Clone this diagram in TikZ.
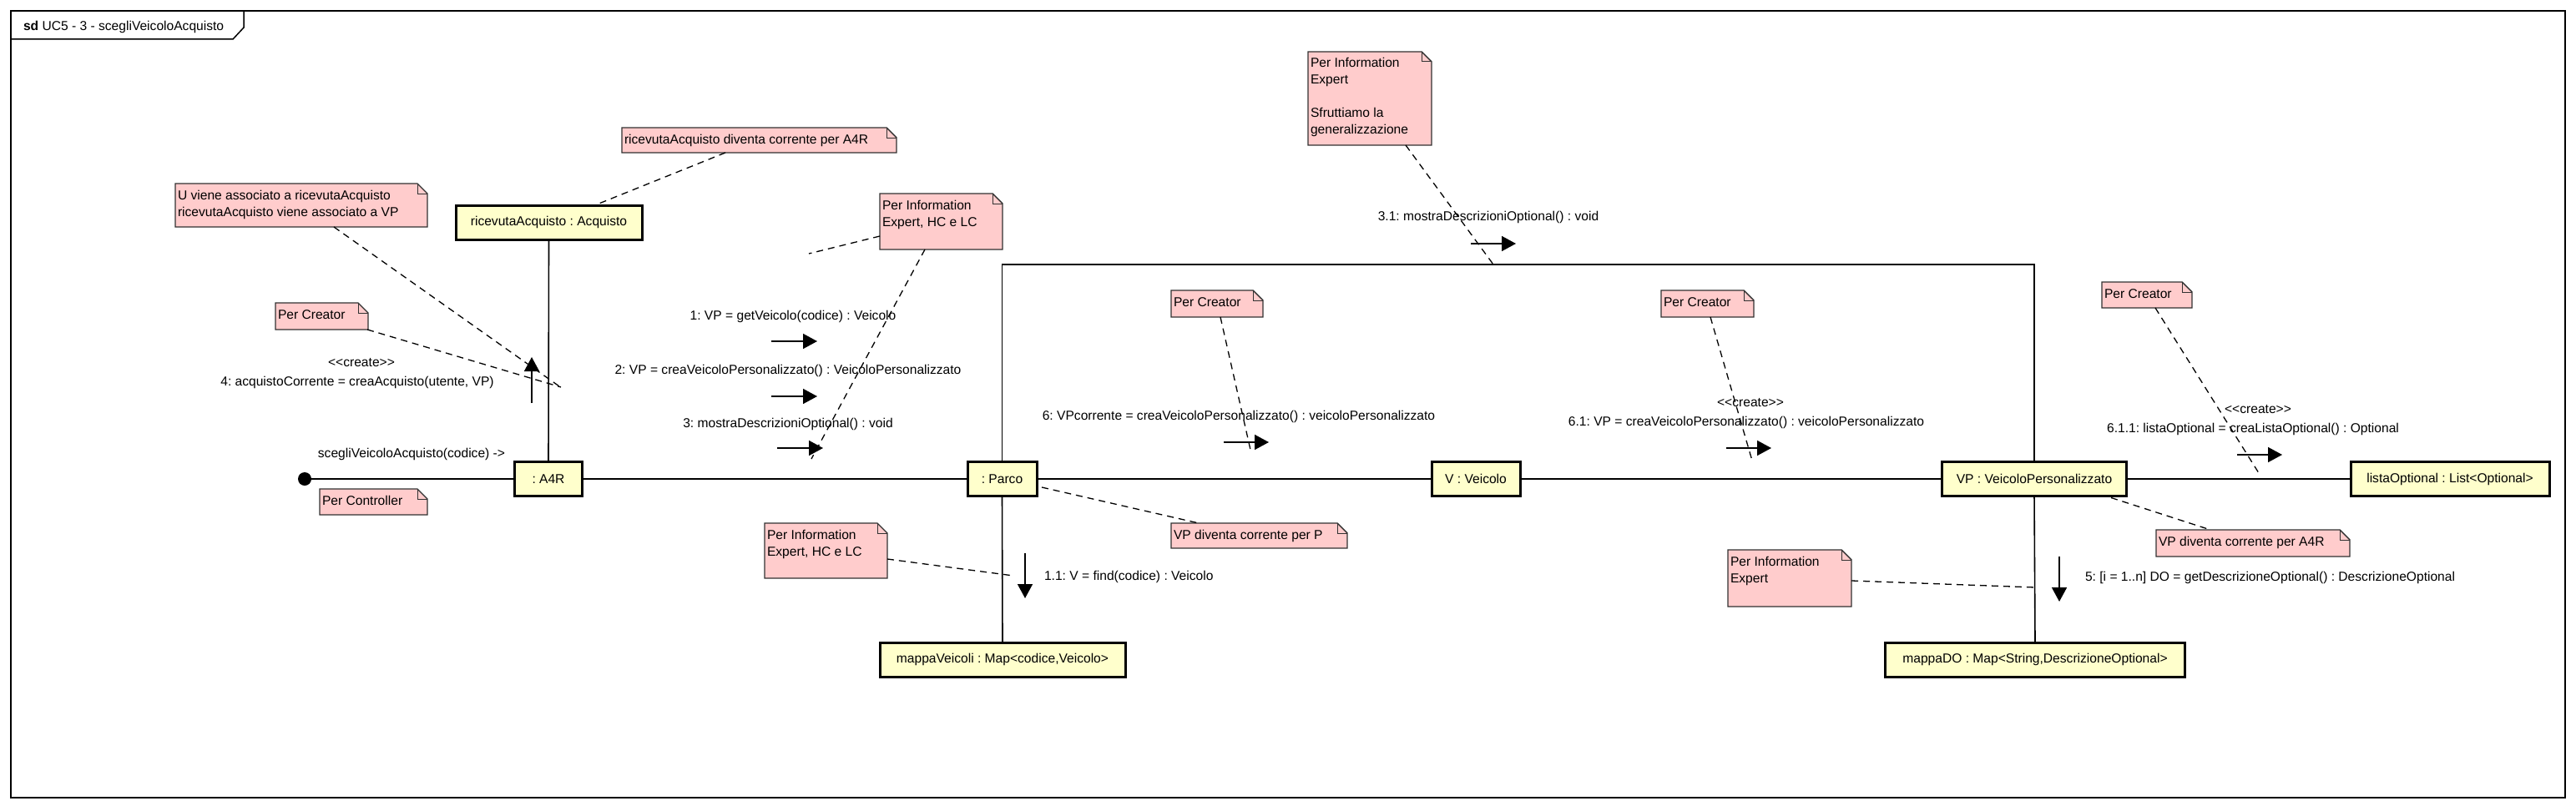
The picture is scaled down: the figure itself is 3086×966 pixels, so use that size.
\documentclass[tikz,border=0pt]{standalone}
\usepackage{fontspec}
\setmainfont{Liberation Sans}[Ligatures=NoCommon]
\usetikzlibrary{arrows.meta}
\definecolor{objfill}{RGB}{255,255,204}
\definecolor{notefill}{RGB}{255,204,204}
\definecolor{notedraw}{RGB}{50,50,50}
\frenchspacing
\newcommand\nlines[1]{\begin{tabular}[t]{@{}l@{}}#1\end{tabular}}
\newcommand\crt{<{}<create>{}>}
% #1 name, #2 x1, #3 y1, #4 x2, #5 y2, #6 text
\newcommand\umlnote[6]{%
  \path[notebg] (#2,#3) -- ({#4-12},#3) -- (#4,{#3+12}) -- (#4,#5) -- (#2,#5) -- cycle;
  \draw[notedraw, line width=1pt] ({#4-12},#3) -- ({#4-12},{#3+12}) -- (#4,{#3+12});
  \node[anchor=north west, minimum width={#4-#2}, minimum height={#5-#3}] (#1) at (#2,#3) {};
  \node[anchor=base west] (#1-t) at ({#2+3},{#3+19}) {\nlines{#6}};
}
\begin{document}
\begin{tikzpicture}[x=1pt,y=-1pt,
  every node/.style={font=\fontsize{15.6}{20}\selectfont\frenchspacing, inner sep=0pt, outer sep=0pt},
  obj/.style={draw=black, line width=3pt, fill=objfill, minimum height=41pt},
  link/.style={line width=1.6pt, draw=black},
  msg/.style={line width=1.6pt, -{Triangle[length=17pt,width=18pt]}},
  notelink/.style={line width=1.3pt, dash pattern=on 8pt off 6pt},
  notebg/.style={fill=notefill, draw=notedraw, line width=1.4pt, line join=miter},
  lbl/.style={anchor=base},
]
\useasboundingbox (0,0) rectangle (3086,966);
\fill[white] (0,0) rectangle (3086,966);

% frame
\draw[line width=1.5pt] (13,13) rectangle (3073,956);
\draw[line width=1.5pt] (13,47) -- (279,47) -- (292,33) -- (292,13);
\node[anchor=base west] (title) at (28,37) {\textbf{sd} UC5 - 3 - scegliVeicoloAcquisto};

% objects
\node[obj, minimum width=223pt] (oRic) at (657.5,266.5) {ricevutaAcquisto : Acquisto};
\node[obj, minimum width=81pt] (oA4R) at (657,574) {: A4R};
\node[obj, minimum width=83pt] (oParco) at (1200.5,574) {: Parco};
\node[obj, minimum width=106pt] (oV) at (1768,574) {V : Veicolo};
\node[obj, minimum width=221pt] (oVP) at (2437,574) {VP : VeicoloPersonalizzato};
\node[obj, minimum width=238pt] (oLista) at (2935,574) {listaOptional : List<Optional>};
\node[obj, minimum width=294pt] (oMapV) at (1201,790.5) {mappaVeicoli : Map<codice,Veicolo>};
\node[obj, minimum width=359pt] (oMapDO) at (2438,790.5) {mappaDO : Map<String,DescrizioneOptional>};
\node[circle, fill=black, minimum size=16pt] (start) at (365,574) {};

% links
\draw[link] (start) -- (oA4R.west);
\draw[link] (oA4R.east) -- (oParco.west);
\draw[link] (oParco.east) -- (oV.west);
\draw[link] (oV.east) -- (oVP.west);
\draw[link] (oVP.east) -- (oLista.west);
\draw[link] (oRic.south) -- (oA4R.north);
\draw[link] (oParco.south) -- (oMapV.north);
\draw[link] (oVP.south) -- (oMapDO.north);
\coordinate (rt) at (1800,317);
\draw[link] (oParco.north) -- (oParco.north |- rt) -| (oVP.north);

% messages
\coordinate (m1s) at (924,409); \coordinate (m1e) at (979,409);
\coordinate (m2s) at (924,475); \coordinate (m2e) at (979,475);
\coordinate (m3s) at (931,537); \coordinate (m3e) at (986,537);
\coordinate (m4s) at (637,483); \coordinate (m4e) at (637,428);
\coordinate (m31s) at (1762,292); \coordinate (m31e) at (1816,292);
\coordinate (m6s) at (1466,530); \coordinate (m6e) at (1520,530);
\coordinate (m61s) at (2068,537); \coordinate (m61e) at (2122,537);
\coordinate (m611s) at (2680,545); \coordinate (m611e) at (2734,545);
\coordinate (m11s) at (1228,663); \coordinate (m11e) at (1228,717);
\coordinate (m5s) at (2467,667); \coordinate (m5e) at (2467,721);
\foreach \m in {m1,m2,m3,m4,m31,m6,m61,m611,m11,m5}
  \draw[msg] (\m s) -- (\m e);

\node[lbl] (l1) at (950,383) {1: VP = getVeicolo(codice) : Veicolo};
\node[lbl] (l2) at (944,448) {2: VP = creaVeicoloPersonalizzato() : VeicoloPersonalizzato};
\node[lbl] (l3) at (944,512) {3: mostraDescrizioniOptional() : void};
\node[lbl] (l4c) at (433,439) {\crt};
\node[lbl] (l4) at (428,462) {4: acquistoCorrente = creaAcquisto(utente, VP)};
\node[lbl] (l0) at (493,548) {scegliVeicoloAcquisto(codice) -{}>};
\node[lbl, anchor=base west] (l11) at (1251,695) {1.1: V = find(codice) : Veicolo};
\node[lbl] (l31) at (1783,264) {3.1: mostraDescrizioniOptional() : void};
\node[lbl] (l6) at (1484,503) {6: VPcorrente = creaVeicoloPersonalizzato() : veicoloPersonalizzato};
\node[lbl] (l61c) at (2097,487) {\crt};
\node[lbl] (l61) at (2092,510) {6.1: VP = creaVeicoloPersonalizzato() : veicoloPersonalizzato};
\node[lbl] (l611c) at (2705,495) {\crt};
\node[lbl] (l611) at (2699,518) {6.1.1: listaOptional = creaListaOptional() : Optional};
\node[lbl, anchor=base west] (l5) at (2498,696) {5: [i = 1..n] DO = getDescrizioneOptional() : DescrizioneOptional};

% notes
\umlnote{nU}{210}{220}{512}{272}{U viene associato a ricevutaAcquisto\\ricevutaAcquisto viene associato a VP}
\umlnote{nRic}{745}{153}{1074}{183}{ricevutaAcquisto diventa corrente per A4R}
\umlnote{nCre1}{330}{363}{441}{395}{Per Creator}
\umlnote{nCtrl}{383}{586}{512}{617}{Per Controller}
\umlnote{nIE1}{1054}{232}{1201}{299}{Per Information\\Expert, HC e LC}
\umlnote{nIE2}{1567}{62}{1715}{174}{Per Information\\Expert\\ \\Sfruttiamo la\\generalizzazione}
\umlnote{nCre2}{1403}{348}{1513}{380}{Per Creator}
\umlnote{nCre3}{1990}{348}{2101}{380}{Per Creator}
\umlnote{nCre4}{2518}{338}{2626}{369}{Per Creator}
\umlnote{nP}{1403}{627}{1614}{657}{VP diventa corrente per P}
\umlnote{nIE3}{916}{627}{1063}{693}{Per Information\\Expert, HC e LC}
\umlnote{nIE4}{2070}{659}{2218}{727}{Per Information\\Expert}
\umlnote{nA4R}{2583}{635}{2815}{667}{VP diventa corrente per A4R}

% note connectors
\coordinate (cU) at (670,463);
\coordinate (cCre1) at (672,464);
\coordinate (cIE1a) at (969,304);
\coordinate (cIE1b) at (972,550);
\coordinate (cIE2) at (1789,317);
\coordinate (cCre2) at (1498,539);
\coordinate (cCre3) at (2099,552);
\coordinate (cCre4) at (2706,567);
\coordinate (cIE3) at (1214,690);
\coordinate (cIE4) at (2438,704);
\draw[notelink] ([xshift=190pt]nU.south west) -- (cU);
\draw[notelink] ([xshift=-1pt]nCre1.south east) -- (cCre1);
\draw[notelink] ([xshift=124pt]nRic.south west) -- ([xshift=55pt]oRic.north);
\draw[notelink] ([yshift=16pt]nIE1.south west) -- (cIE1a);
\draw[notelink] ([xshift=54pt]nIE1.south west) -- (cIE1b);
\draw[notelink] ([xshift=117pt]nIE2.south west) -- (cIE2);
\draw[notelink] ([xshift=59pt]nCre2.south west) -- (cCre2);
\draw[notelink] ([xshift=59pt]nCre3.south west) -- (cCre3);
\draw[notelink] ([xshift=64pt]nCre4.south west) -- (cCre4);
\draw[notelink] ([xshift=6pt,yshift=-10pt]oParco.east) -- ([xshift=33pt]nP.north west);
\draw[notelink] ([xshift=92pt,yshift=-2pt]oVP.south) -- ([xshift=65pt]nA4R.north west);
\draw[notelink] ([yshift=23pt]nIE3.south east) -- (cIE3);
\draw[notelink] ([yshift=31pt]nIE4.south east) -- (cIE4);
\end{tikzpicture}
\end{document}
